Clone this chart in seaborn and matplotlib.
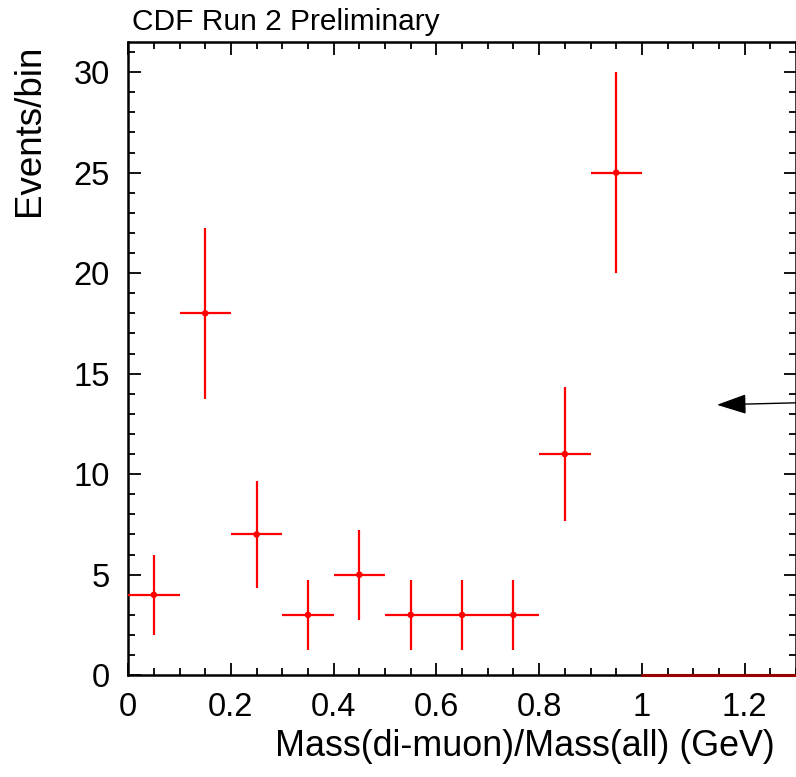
import matplotlib
matplotlib.use("Agg")
import matplotlib.pyplot as plt
import seaborn as sns
import numpy as np
import pandas as pd
from matplotlib.ticker import MultipleLocator

sns.set_style("ticks")
plt.rcParams['font.family'] = ['Liberation Sans', 'DejaVu Sans']
plt.rcParams['text.color'] = 'black'
plt.rcParams['axes.labelcolor'] = 'black'
plt.rcParams['xtick.color'] = 'black'
plt.rcParams['ytick.color'] = 'black'

# data
bin_centers = [0.05, 0.15, 0.25, 0.35, 0.45, 0.55, 0.65, 0.75, 0.85, 0.95]
counts = [4, 18, 7, 3, 5, 3, 3, 3, 11, 25]
errors = [2.0, 4.24, 2.65, 1.73, 2.24, 1.73, 1.73, 1.73, 3.32, 5.0]
bin_half_width = 0.05
bkg_x = [1.0, 1.3]
bkg_y = [0, 0]
arrow_tip = (1.146, 13.45)
arrow_tail = (1.3, 13.55)

df = pd.DataFrame({"x": bin_centers, "y": counts, "err": errors})

fig = plt.figure(figsize=(7.96, 7.77), dpi=100)
ax = fig.add_axes([0.161, 0.131, 0.839, 0.815])

ax.errorbar(df["x"], df["y"], yerr=df["err"], xerr=bin_half_width,
            fmt='none', ecolor='#ff0000', elinewidth=1.6, capsize=0, zorder=3)
sns.scatterplot(data=df, x="x", y="y", ax=ax, color='#ff0000', s=22,
                edgecolor='none', zorder=4, legend=False)
sns.lineplot(x=bkg_x, y=bkg_y, ax=ax, color='#990000', linewidth=2.2,
             zorder=5, clip_on=False)

ax.annotate("", xy=arrow_tip, xytext=arrow_tail,
            arrowprops=dict(arrowstyle="-|>,head_length=1.85,head_width=0.62",
                            color='black', lw=1.0, shrinkA=0, shrinkB=0),
            annotation_clip=False)

ax.set_xlim(0, 1.3)
ax.set_ylim(0, 31.5)
ax.xaxis.set_major_locator(MultipleLocator(0.2))
ax.xaxis.set_minor_locator(MultipleLocator(0.05))
ax.yaxis.set_major_locator(MultipleLocator(5))
ax.yaxis.set_minor_locator(MultipleLocator(1))
ax.set_xticks([0, 0.2, 0.4, 0.6, 0.8, 1.0, 1.2])
ax.set_xticklabels(["0", "0.2", "0.4", "0.6", "0.8", "1", "1.2"])
ax.tick_params(which='both', direction='in', top=True, right=True,
               width=1.3, color='black', labelcolor='black')
ax.tick_params(which='major', length=9, labelsize=23.5, pad=12)
ax.tick_params(which='minor', length=5)
ax.tick_params(axis='y', which='major', pad=13)
for s in ax.spines.values():
    s.set_linewidth(1.8)
    s.set_color('black')

ax.set_xlabel("Mass(di-muon)/Mass(all) (GeV)", fontsize=25.8, ha='right')
ax.xaxis.set_label_coords(0.968, -0.085)
ax.set_ylabel("Events/bin", fontsize=26.5, ha='right')
ax.yaxis.set_label_coords(-0.122, 0.995)

fig.text(0.166, 0.962, "CDF Run 2 Preliminary", fontsize=21.5, ha='left', va='baseline')

fig.savefig("out.png", dpi=100)
